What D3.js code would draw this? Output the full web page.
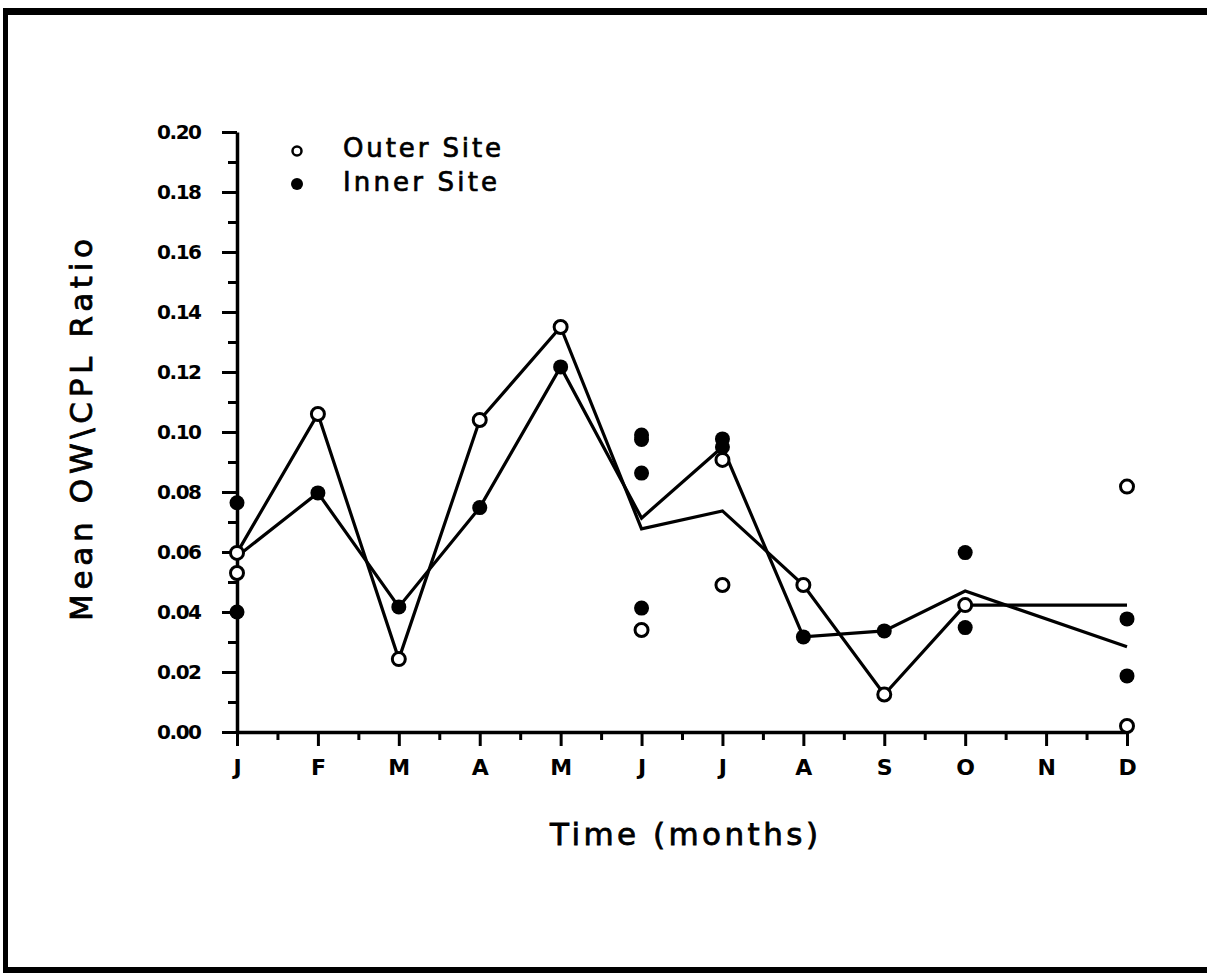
<!DOCTYPE html>
<html>
<head>
<meta charset="utf-8">
<script src="https://cdn.jsdelivr.net/npm/d3@7"></script>
<style>
  html, body { margin: 0; padding: 0; background: #fff; }
  svg { display: block; }
  text { font-family: "DejaVu Sans", sans-serif; fill: #000; }
</style>
</head>
<body>
<script>
// ---- data ----
const months = ["J","F","M","A","M","J","J","A","S","O","N","D"];
const yTicks = [0.00, 0.02, 0.04, 0.06, 0.08, 0.10, 0.12, 0.14, 0.16, 0.18, 0.20];

// mean lines (null = no value for that month)
const outerMean = [0.0597, 0.106, 0.0243, 0.104, 0.135, 0.0677, 0.0737, 0.049, 0.0125, 0.0423, null, 0.0423];
const innerMean = [0.0585, 0.0797, 0.0417, 0.0748, 0.1217, 0.0713, 0.0950, 0.0317, 0.0337, 0.0470, null, 0.0284];

// individual observations (month index, value)
const outerObsMonth = [0, 0, 1, 2, 3, 4, 5, 6, 6, 7, 8, 9, 11, 11];
const outerObsValue = [0.0597, 0.053, 0.106, 0.0243, 0.104, 0.135, 0.034, 0.0907, 0.049, 0.049, 0.0125, 0.0423, 0.0818, 0.002];
const innerObsMonth = [0, 0, 1, 2, 3, 4, 5, 5, 5, 5, 6, 6, 7, 8, 9, 9, 11, 11];
const innerObsValue = [0.0764, 0.040, 0.0797, 0.0417, 0.0748, 0.1217, 0.0990, 0.0975, 0.0863, 0.0413, 0.0977, 0.0950, 0.0317, 0.0337, 0.0598, 0.0348, 0.0377, 0.0187];

const legendLabels = ["Outer Site", "Inner Site"];

// ---- drawing ----
const W = 1207, H = 973;
const svg = d3.select("body").append("svg").attr("width", W).attr("height", H);

// page frame
svg.append("rect").attr("x", 3).attr("y", 8).attr("width", W).attr("height", 7).attr("fill", "#000");
svg.append("rect").attr("x", 3).attr("y", 8).attr("width", 5).attr("height", H - 8).attr("fill", "#000");
svg.append("rect").attr("x", 3).attr("y", 967).attr("width", W).attr("height", 6).attr("fill", "#000");

const x = d3.scaleLinear().domain([0, 11]).range([237, 1127]);
const y = d3.scaleLinear().domain([0, 0.20]).range([732, 132]);

// y axis minor ticks
const yMinor = d3.range(0.01, 0.20, 0.02);
svg.append("g").attr("transform", `translate(${x(0)},0)`)
  .call(d3.axisLeft(y).tickValues(yMinor).tickSize(9).tickSizeOuter(0).tickFormat(""))
  .call(g => g.select(".domain").remove())
  .call(g => g.selectAll("line").attr("stroke", "#000").attr("stroke-width", 3));

// y axis major
svg.append("g").attr("transform", `translate(${x(0)},0)`)
  .call(d3.axisLeft(y).tickValues(yTicks).tickSize(15).tickSizeOuter(0).tickPadding(20).tickFormat(d3.format(".2f")))
  .call(g => g.select(".domain").attr("stroke", "#000").attr("stroke-width", 3.5))
  .call(g => g.selectAll("line").attr("stroke", "#000").attr("stroke-width", 3))
  .call(g => g.selectAll("text").attr("font-size", 20).attr("font-weight", "bold").attr("font-family", "DejaVu Sans")
    .attr("textLength", 45).attr("lengthAdjust", "spacing"));

// x axis minor
const xMinor = d3.range(0.5, 11, 1);
svg.append("g").attr("transform", `translate(0,${y(0)})`)
  .call(d3.axisBottom(x).tickValues(xMinor).tickSize(8).tickSizeOuter(0).tickFormat(""))
  .call(g => g.select(".domain").remove())
  .call(g => g.selectAll("line").attr("stroke", "#000").attr("stroke-width", 3));

// x axis major
svg.append("g").attr("transform", `translate(0,${y(0)})`)
  .call(d3.axisBottom(x).tickValues(d3.range(0, 12)).tickSize(14).tickSizeOuter(0).tickPadding(13).tickFormat(i => months[i]))
  .call(g => g.select(".domain").attr("stroke", "#000").attr("stroke-width", 3.5))
  .call(g => g.selectAll("line").attr("stroke", "#000").attr("stroke-width", 3))
  .call(g => g.selectAll("text").attr("font-size", 22).attr("font-weight", "bold").attr("font-family", "DejaVu Sans"));

// mean lines
const line = d3.line().x(d => x(d[0])).y(d => y(d[1]));
[outerMean, innerMean].forEach(arr => {
  const pts = arr.map((v, i) => [i, v]).filter(d => d[1] != null);
  svg.append("path").datum(pts).attr("d", line)
    .attr("fill", "none").attr("stroke", "#000").attr("stroke-width", 3.2)
    .attr("stroke-linejoin", "miter").attr("stroke-linecap", "butt");
});

// observations
svg.append("g").selectAll("circle").data(innerObsValue.map((v, i) => [innerObsMonth[i], v]))
  .join("circle").attr("cx", d => x(d[0])).attr("cy", d => y(d[1])).attr("r", 7.5).attr("fill", "#000");
svg.append("g").selectAll("circle").data(outerObsValue.map((v, i) => [outerObsMonth[i], v]))
  .join("circle").attr("cx", d => x(d[0])).attr("cy", d => y(d[1])).attr("r", 6.5)
  .attr("fill", "#fff").attr("stroke", "#000").attr("stroke-width", 3);

// legend
const lg = svg.append("g");
lg.append("circle").attr("cx", 297).attr("cy", 151).attr("r", 4.5).attr("fill", "#fff").attr("stroke", "#000").attr("stroke-width", 2.5);
lg.append("circle").attr("cx", 297).attr("cy", 184).attr("r", 6).attr("fill", "#000");
lg.append("text").attr("x", 343).attr("y", 157).attr("font-size", 26).attr("stroke", "#000").attr("stroke-width", 0.7)
  .attr("textLength", 158).attr("lengthAdjust", "spacing").text(legendLabels[0]);
lg.append("text").attr("x", 343).attr("y", 191).attr("font-size", 26).attr("stroke", "#000").attr("stroke-width", 0.7)
  .attr("textLength", 154).attr("lengthAdjust", "spacing").text(legendLabels[1]);

// axis titles
svg.append("text").attr("transform", "translate(92,430) rotate(-90)").attr("text-anchor", "middle")
  .attr("font-size", 31).attr("stroke", "#000").attr("stroke-width", 0.8)
  .attr("textLength", 382).attr("lengthAdjust", "spacing").text("Mean OW\\CPL Ratio");
svg.append("text").attr("x", 684).attr("y", 845).attr("text-anchor", "middle")
  .attr("font-size", 31).attr("stroke", "#000").attr("stroke-width", 0.8)
  .attr("textLength", 268).attr("lengthAdjust", "spacing").text("Time (months)");
</script>
</body>
</html>
